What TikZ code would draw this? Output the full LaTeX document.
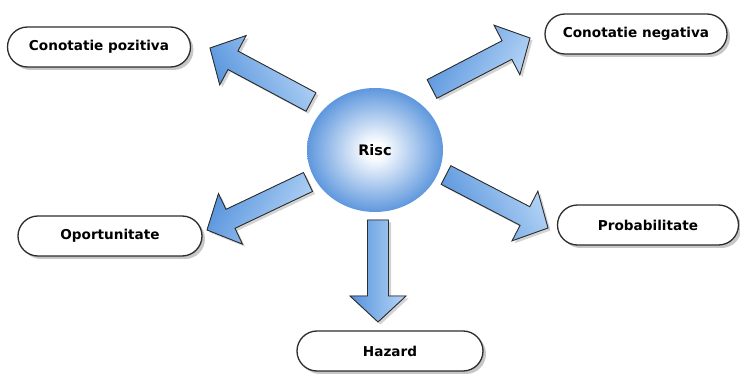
\documentclass[tikz,border=0pt]{standalone}
\usepackage{fontspec}
\setmainfont{DejaVu Sans}
\usetikzlibrary{calc,shadows,shapes.misc,shapes.geometric}

\definecolor{riscblue}{RGB}{58,128,214}
\definecolor{arrowdark}{RGB}{84,146,220}
\definecolor{arrowlight}{RGB}{184,214,246}
\definecolor{edgegray}{RGB}{45,45,45}

% soft sphere: white centre fading to blue at the rim
\pgfdeclareradialshading{riscsphere}{\pgfpoint{0bp}{0bp}}{%
  color(0bp)=(white);
  color(3bp)=(white);
  color(30bp)=(riscblue);
  color(34bp)=(riscblue!94!black);
  color(50bp)=(riscblue!94!black)}

\newlength{\shafthalf}\setlength{\shafthalf}{10.5pt}
\newlength{\headhalf}\setlength{\headhalf}{28pt}
\newlength{\headlen}\setlength{\headlen}{26pt}

% block arrow from coordinate #1 (tail) to coordinate #2 (tip); #3 = extra options
\newcommand{\blockarrow}[3]{%
  \coordinate (hb) at ($(#2)!\headlen!(#1)$);
  \filldraw[blockarrowstyle,#3]
    ($(#1)!\shafthalf!90:(#2)$) --
    ($(hb)!\shafthalf!-90:(#1)$) --
    ($(hb)!\headhalf!-90:(#1)$) --
    (#2) --
    ($(hb)!\headhalf!90:(#1)$) --
    ($(hb)!\shafthalf!90:(#1)$) --
    ($(#1)!\shafthalf!-90:(#2)$) -- cycle;
}

\tikzset{
  x=1pt, y=-1pt,
  label box/.style={
    rounded rectangle, draw=edgegray, line width=1.3pt, fill=white,
    minimum width=#1, minimum height=40pt, inner sep=0pt,
    font=\fontsize{13.6}{16}\selectfont\bfseries,
    drop shadow={shadow xshift=3pt, shadow yshift=-3pt, fill=black!55, opacity=0.4}},
  blockarrowstyle/.style={
    draw=edgegray, line width=0.9pt, line join=miter,
    left color=arrowdark, right color=arrowlight,
    drop shadow={shadow xshift=2.5pt, shadow yshift=-2.5pt, fill=black!50, opacity=0.35}},
  risc ball/.style={
    shape=ellipse, minimum width=136pt, minimum height=124pt, inner sep=0pt,
    shading=riscsphere,
    font=\fontsize{14.5}{17}\selectfont\bfseries}
}

\begin{document}
\begin{tikzpicture}
  \useasboundingbox (0,0) rectangle (740,374);

  % central concept
  \node[risc ball] (risc) at (375,150) {Risc};

  % surrounding concepts
  \node[label box=183pt] (poz) at (99,47)   {Conotatie pozitiva};
  \node[label box=182pt] (neg) at (636,34)  {Conotatie negativa};
  \node[label box=184pt] (opo) at (110,236) {Oportunitate};
  \node[label box=181pt] (prb) at (648,225) {Probabilitate};
  \node[label box=186pt] (haz) at (390,351) {Hazard};

  % arrow tails and tips
  \coordinate (t1) at (311,102);  \coordinate (h1) at (210,48);
  \coordinate (t2) at (432,89);   \coordinate (h2) at (530,38);
  \coordinate (t3) at (308,182);  \coordinate (h3) at (207,230);
  \coordinate (t4) at (446,175);  \coordinate (h4) at (548,228);
  \coordinate (t5) at (378,220);  \coordinate (h5) at (378,322);

  \blockarrow{t1}{h1}{shading angle=120}
  \blockarrow{t2}{h2}{shading angle=60}
  \blockarrow{t3}{h3}{shading angle=60}
  \blockarrow{t4}{h4}{shading angle=120}
  \blockarrow{t5}{h5}{}
\end{tikzpicture}
\end{document}
